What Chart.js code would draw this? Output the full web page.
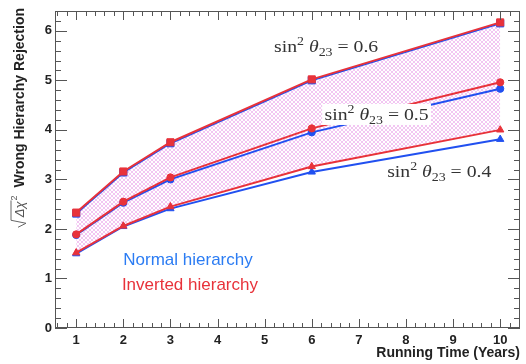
<!DOCTYPE html>
<html>
<head>
<meta charset="utf-8">
<script src="https://cdn.jsdelivr.net/npm/chart.js@4"></script>
<style>
  body { margin: 0; background: #fff; }
  #wrap { width: 526px; height: 364px; }
</style>
</head>
<body>
<div id="wrap"><canvas id="mhChart"></canvas></div>
<script>
// running time in years
const years = [1, 2, 3, 6, 10];

// sqrt(delta chi2) for rejecting the wrong hierarchy
const nh06 = [2.31, 3.14, 3.73, 5.00, 6.15];
const nh05 = [1.88, 2.53, 3.00, 3.95, 4.83];
const nh04 = [1.50, 2.05, 2.41, 3.15, 3.81];
const ih06 = [2.33, 3.16, 3.75, 5.02, 6.17];
const ih05 = [1.89, 2.55, 3.04, 4.03, 4.96];
const ih04 = [1.52, 2.06, 2.45, 3.26, 4.00];

const sinLabels = ["0.6", "0.5", "0.4"];

const RED = "#e8323a";
const BLUE = "#2150f0";

function pts(vals) {
  return years.map((x, i) => ({ x, y: vals[i] }));
}

// light pink cross hatch for the band between 0.6 and 0.4
function hatchPattern() {
  const c = document.createElement("canvas");
  c.width = 4; c.height = 4;
  const g = c.getContext("2d");
  g.strokeStyle = "rgba(225,120,225,0.42)";
  g.lineWidth = 1;
  g.beginPath();
  g.moveTo(0, 0); g.lineTo(4, 4);
  g.moveTo(4, 0); g.lineTo(0, 4);
  g.stroke();
  return g.createPattern(c, "repeat");
}

function series(vals, color, style, radius, fill) {
  return {
    data: pts(vals),
    borderColor: color,
    backgroundColor: fill || color,
    pointBackgroundColor: color,
    pointBorderColor: color,
    pointBorderWidth: 1,
    pointStyle: style,
    pointRadius: radius,
    borderWidth: 2,
    tension: 0,
    fill: fill ? 2 : false,
  };
}

// sin^2 theta_23 = v, drawn piece by piece
function drawSinLabel(ctx, x, y, v, box) {
  const big = "17px 'Liberation Serif', serif";
  const small = "12px 'Liberation Serif', serif";
  const ital = "italic 17px 'Liberation Serif', serif";
  const parts = [
    [big, "sin", 0], [small, "2", -7], [big, " ", 0], [ital, "\u03b8", 0],
    [small, "23", 4], [big, " = " + v, 0],
  ];
  const sx = 1.16;
  let w = 0;
  parts.forEach((p) => { ctx.font = p[0]; w += ctx.measureText(p[1]).width; });
  ctx.save();
  ctx.translate(x, y);
  ctx.scale(sx, 1);
  if (box) {
    ctx.fillStyle = "#fff";
    ctx.fillRect(-2, -16, w + 4, 21);
  }
  ctx.fillStyle = "#333";
  ctx.textAlign = "left";
  ctx.textBaseline = "alphabetic";
  let cx = 0;
  parts.forEach((p) => {
    ctx.font = p[0];
    ctx.fillText(p[1], cx, p[2]);
    cx += ctx.measureText(p[1]).width;
  });
  ctx.restore();
}

const framePlugin = {
  id: "frame",
  afterDatasetsDraw(chart) {
    const { ctx, chartArea: a, scales: { x, y } } = chart;
    ctx.save();

    // curve labels
    const spots = [[5.2, 5.57, false], [6.27, 4.2, true], [7.6, 3.05, false]];
    spots.forEach((s, i) => {
      drawSinLabel(ctx, x.getPixelForValue(s[0]), y.getPixelForValue(s[1]), sinLabels[i], s[2]);
    });

    // hierarchy key
    ctx.font = "17px 'Liberation Sans', Arial, sans-serif";
    ctx.textAlign = "left";
    ctx.fillStyle = "#2b7cf3";
    ctx.fillText("Normal hierarchy", x.getPixelForValue(2.0), y.getPixelForValue(1.28));
    ctx.fillStyle = RED;
    ctx.fillText("Inverted hierarchy", x.getPixelForValue(1.97), y.getPixelForValue(0.77));

    // box with inward ticks on all four sides
    ctx.strokeStyle = "#555";
    ctx.lineWidth = 1;
    ctx.strokeRect(a.left + 0.5, a.top + 0.5, a.right - a.left - 1, a.bottom - a.top - 1);
    ctx.beginPath();
    for (let k = 3; k <= 52; k++) {
      const v = k / 5;
      if (v < x.min || v > x.max) continue;
      const px = Math.round(x.getPixelForValue(v)) + 0.5;
      const len = k % 5 === 0 ? 9 : 5;
      ctx.moveTo(px, a.bottom); ctx.lineTo(px, a.bottom - len);
      ctx.moveTo(px, a.top); ctx.lineTo(px, a.top + len);
    }
    for (let k = 0; k <= 32; k++) {
      const v = k / 5;
      if (v > y.max) continue;
      const py = Math.round(y.getPixelForValue(v)) + 0.5;
      const len = k % 5 === 0 ? 12 : 6;
      ctx.moveTo(a.left, py); ctx.lineTo(a.left + len, py);
      ctx.moveTo(a.right, py); ctx.lineTo(a.right - len, py);
    }
    ctx.stroke();

    // y axis title with sqrt(delta chi2)
    ctx.translate(24, a.top - 3);
    ctx.rotate(-Math.PI / 2);
    ctx.textAlign = "right";
    ctx.fillStyle = "#222";
    ctx.font = "bold 14px 'Liberation Sans', Arial, sans-serif";
    const title = "Wrong Hierarchy Rejection";
    const tw = ctx.measureText(title).width;
    ctx.fillText(title, 0, 0);
    ctx.textAlign = "left";
    ctx.font = "italic 13px 'Liberation Sans', Arial, sans-serif";
    const dw = ctx.measureText("\u0394\u03c7").width;
    const s = -tw - 8 - dw - 6;
    ctx.fillStyle = "#555";
    ctx.fillText("\u0394\u03c7", s, 0);
    ctx.font = "9px 'Liberation Sans', Arial, sans-serif";
    ctx.fillText("2", s + dw + 1, -7);
    ctx.strokeStyle = "#666";
    ctx.beginPath();
    ctx.moveTo(s - 10, -6);
    ctx.lineTo(s - 6, 2);
    ctx.lineTo(s - 3, -13);
    ctx.lineTo(s + dw + 1, -13);
    ctx.stroke();
    ctx.restore();
  },
};

const hatch = hatchPattern();

new Chart(document.getElementById("mhChart"), {
  type: "line",
  data: {
    datasets: [
      series(ih06, RED, "rect", 5, hatch),
      series(ih05, RED, "circle", 3.6),
      series(ih04, RED, "triangle", 4.2),
      series(nh06, BLUE, "rect", 5),
      series(nh05, BLUE, "circle", 3.6),
      series(nh04, BLUE, "triangle", 4.2),
    ],
  },
  options: {
    responsive: true,
    maintainAspectRatio: false,
    animation: false,
    layout: { padding: { top: 11, right: 4 } },
    plugins: {
      legend: { display: false },
      tooltip: { enabled: false },
      filler: { drawTime: "beforeDatasetsDraw" },
    },
    scales: {
      x: {
        type: "linear",
        min: 0.55,
        max: 10.42,
        grid: { display: false, drawTicks: false },
        border: { display: false },
        ticks: {
          stepSize: 1,
          includeBounds: false,
          padding: 5,
          color: "#222",
          font: { family: "'Liberation Sans', Arial, sans-serif", size: 13, weight: "bold" },
        },
        title: {
          display: true,
          text: "Running Time (Years)",
          align: "end",
          color: "#222",
          padding: { top: 0, bottom: 2 },
          font: { family: "'Liberation Sans', Arial, sans-serif", size: 14, weight: "bold" },
        },
        afterFit: (s) => { s.height = 36; },
      },
      y: {
        min: 0,
        max: 6.4,
        grid: { display: false, drawTicks: false },
        border: { display: false },
        ticks: {
          stepSize: 1,
          includeBounds: false,
          padding: 3,
          color: "#222",
          font: { family: "'Liberation Sans', Arial, sans-serif", size: 13, weight: "bold" },
        },
        afterFit: (s) => { s.width = 55; },
      },
    },
  },
  plugins: [framePlugin],
});
</script>
</body>
</html>
